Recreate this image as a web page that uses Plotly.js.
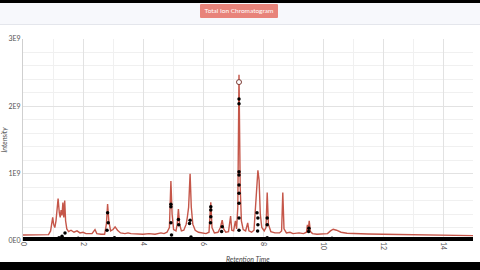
<!DOCTYPE html>
<html>
<head>
<meta charset="utf-8">
<script src="https://cdn.plot.ly/plotly-3.0.1.min.js"></script>
<style>
html,body{margin:0;padding:0;width:480px;height:270px;overflow:hidden;background:#fff;font-family:Lato,"Open Sans",sans-serif;}
#topbar{position:absolute;left:0;top:0;width:480px;height:3px;background:#000;}
#header{position:absolute;left:0;top:3px;width:480px;height:21px;background:#f7f8fc;border-bottom:1px solid #e4e6ec;}
#btn{position:absolute;left:200px;top:1px;width:78px;height:14px;background:#e8837a;color:#fff;font-size:6.5px;line-height:14px;text-align:center;border-radius:1px;}
#plot{position:absolute;left:0;top:25px;width:480px;height:237px;}
#bottombar{position:absolute;left:0;top:262px;width:480px;height:8px;background:#000;}
</style>
</head>
<body>
<div id="topbar"></div>
<div id="header"><div id="btn">Total Ion Chromatogram</div></div>
<div id="plot"></div>
<div id="bottombar"></div>
<script>
// Total ion chromatogram (intensity in units of 1E9)
const ticTime = [0.0,0.3,0.6,0.85,0.92,0.96,0.99,1.02,1.06,1.10,1.17,1.21,1.24,1.27,1.30,1.33,1.36,1.39,1.42,1.46,1.52,1.6,1.7,1.8,1.9,2.0,2.1,2.2,2.3,2.4,2.46,2.6,2.72,2.78,2.82,2.86,2.92,3.0,3.07,3.15,3.25,3.4,3.5,3.6,3.8,4.0,4.2,4.4,4.6,4.7,4.8,4.88,4.93,4.97,5.02,5.1,5.14,5.18,5.22,5.28,5.36,5.44,5.48,5.52,5.57,5.61,5.66,5.74,5.85,6.0,6.1,6.2,6.26,6.3,6.38,6.5,6.58,6.64,6.69,6.76,6.85,6.92,6.96,7.02,7.08,7.12,7.16,7.2,7.24,7.28,7.34,7.42,7.49,7.53,7.62,7.7,7.75,7.79,7.83,7.87,7.91,7.96,8.04,8.1,8.14,8.18,8.26,8.4,8.55,8.62,8.66,8.7,8.78,8.9,9.0,9.2,9.35,9.45,9.48,9.51,9.54,9.58,9.65,9.8,10.0,10.15,10.25,10.34,10.45,10.6,10.8,11.0,11.5,12.0,12.5,13.0,13.5,14.0,14.5,15.0];
const ticIntensity = [0.09,0.09,0.09,0.095,0.15,0.28,0.35,0.25,0.2,0.3,0.63,0.42,0.35,0.46,0.38,0.57,0.35,0.60,0.3,0.18,0.14,0.16,0.13,0.15,0.12,0.13,0.11,0.11,0.11,0.17,0.11,0.1,0.1,0.25,0.55,0.3,0.15,0.17,0.21,0.16,0.12,0.11,0.12,0.11,0.1,0.1,0.11,0.1,0.12,0.11,0.13,0.2,0.89,0.4,0.17,0.15,0.25,0.475,0.25,0.15,0.16,0.25,0.36,0.5,1.0,0.5,0.25,0.16,0.13,0.12,0.11,0.13,0.575,0.2,0.12,0.13,0.2,0.31,0.18,0.13,0.14,0.37,0.16,0.15,0.30,0.18,0.5,2.47,0.8,0.3,0.17,0.15,0.27,0.15,0.13,0.16,0.5,0.8,1.05,0.9,0.4,0.2,0.15,0.2,0.72,0.25,0.14,0.12,0.12,0.15,0.72,0.18,0.12,0.13,0.11,0.12,0.11,0.13,0.24,0.15,0.30,0.14,0.11,0.1,0.1,0.11,0.15,0.175,0.16,0.13,0.115,0.11,0.105,0.1,0.095,0.09,0.085,0.085,0.08,0.08];

// low-level scan band near zero
const bandTime = [0,1,2,3,4,5,6,7,8,9,10,11,12,13,14,15];
const bandIntensity = [0.025,0.025,0.025,0.025,0.025,0.025,0.025,0.025,0.025,0.025,0.025,0.025,0.025,0.025,0.025,0.025];

// precursor scan points
const scanTime = [1.2,1.3,1.4,1.84,2.8,2.82,2.84,3.05,4.93,4.93,4.93,4.95,5.18,5.19,5.55,5.57,5.6,6.25,6.26,6.26,6.26,6.62,6.64,7.2,7.2,7.2,7.2,7.2,7.2,7.2,7.2,7.2,7.8,7.82,7.83,7.83,8.14,8.14,8.14,9.52,9.53,10.3];
const scanIntensity = [0.05,0.07,0.12,0.04,0.16,0.42,0.27,0.05,0.545,0.51,0.27,0.09,0.32,0.24,0.26,0.31,0.06,0.27,0.36,0.46,0.51,0.14,0.21,2.11,2.04,1.03,0.98,0.83,0.71,0.56,0.34,0.16,0.42,0.15,0.24,0.34,0.05,0.24,0.34,0.14,0.19,0.04];

// highlighted apex
const apexTime = [7.2];
const apexIntensity = [2.36];

const yTickVals = [0,1,2,3];
const yTickText = ['0E0','1E9','2E9','3E9'];
const xTickVals = [0,2,4,6,8,10,12,14];
const xTickText = ['0','2','4','6','8','10','12','14'];
const xTitle = 'Retention Time';
const yTitle = 'Intensity';

const traces = [
  {x: ticTime, y: ticIntensity, type:'scatter', mode:'lines', line:{color:'#c55649', width:1.4}, hoverinfo:'skip'},
  {x: bandTime, y: bandIntensity, type:'scatter', mode:'lines', line:{color:'#000', width:4.5}, hoverinfo:'skip'},
  {x: scanTime, y: scanIntensity, type:'scatter', mode:'markers', marker:{color:'#000', size:3.5}, hoverinfo:'skip'},
  {x: apexTime, y: apexIntensity, type:'scatter', mode:'markers', marker:{color:'#fff', size:5, line:{color:'#7a3a34', width:1}}, hoverinfo:'skip'}
];

const layout = {
  width:480, height:237,
  margin:{l:23, r:7, t:14, b:21, autoexpand:false},
  paper_bgcolor:'#fff', plot_bgcolor:'#fff',
  showlegend:false,
  font:{family:'Lato, "Open Sans", sans-serif', color:'#555', size:7},
  xaxis:{
    range:[0,15], tickvals:xTickVals, ticktext:xTickText, tickangle:90,
    showgrid:true, gridcolor:'#e2e2e2', gridwidth:1,
    minor:{dtick:1, showgrid:true, gridcolor:'#f0f0f0'},
    zeroline:false, showline:false, ticks:'', ticklen:0, tickfont:{size:7, color:'#555'},
    automargin:false
  },
  yaxis:{
    range:[0,3], tickvals:yTickVals, ticktext:yTickText,
    showgrid:true, gridcolor:'#e2e2e2', gridwidth:1,
    minor:{tickvals:[0.2,0.4,0.6,0.8,1.2,1.4,1.6,1.8,2.2,2.4,2.6,2.8], showgrid:true, gridcolor:'#f0f0f0'},
    zeroline:false, showline:true, linecolor:'#cfcfcf', linewidth:1, ticks:'', tickfont:{size:7, color:'#555'},
    automargin:false,
    title:{text:yTitle, font:{size:7, color:'#444', style:'italic'}, standoff:2}
  },
  annotations:[
    {text:xTitle, xref:'paper', yref:'paper', x:0.5, y:-0.089, xanchor:'center', yanchor:'middle', showarrow:false, font:{size:7, color:'#444', style:'italic'}}
  ]
};

Plotly.newPlot('plot', traces, layout, {displayModeBar:false, staticPlot:true});
</script>
</body>
</html>
